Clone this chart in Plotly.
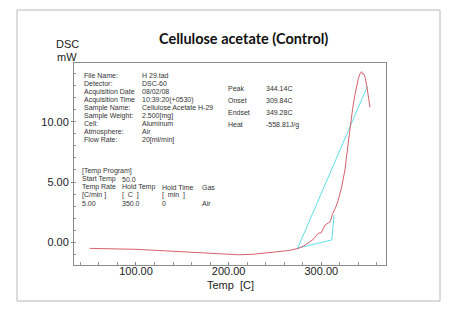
import plotly.graph_objects as go

# ---- data ----
dsc_temp = [50, 75, 100, 125, 150, 175, 195, 210, 225, 240, 255, 265, 275, 281, 287.7, 292, 296.7, 300, 304, 307,
            309.4, 311.2, 312.2, 315, 318.3, 322, 325.5, 328.5, 331.6, 334, 336.2, 338, 340, 342, 343.4, 344.5,
            345.5, 346.5, 347.5, 349, 351, 352.5]
dsc_mw = [-0.5, -0.53, -0.58, -0.68, -0.78, -0.9, -1.0, -1.03, -1.0, -0.9, -0.78, -0.68, -0.5, -0.3, 0.05, 0.3,
          0.75, 0.8, 1.43, 1.55, 1.7, 2.1, 2.4, 2.8, 3.5, 4.6, 6.0, 7.9, 9.9, 11.2, 12.2, 12.9, 13.6, 14.0, 14.15,
          13.95, 14.0, 13.85, 13.6, 13.0, 12.0, 11.2]

baseline_temp = [273.7, 311.3, 313.8]
baseline_mw = [-0.5, 0.2, 2.26]
tangent_temp = [274.4, 349.9]
tangent_mw = [-0.5, 12.96]

x_tickvals = [100, 200, 300]
x_ticktext = ["100.00", "200.00", "300.00"]
y_tickvals = [0, 5, 10]
y_ticktext = ["0.00", "5.00", "10.00"]

info_labels = ["File Name:", "Detector:", "Acquisition Date", "Acquisition Time", "Sample Name:",
               "Sample Weight:", "Cell:", "Atmosphere:", "Flow Rate:"]
info_values = ["H 29.tad", "DSC-60", "08/02/08", "10:39:20(+0530)", "Cellulose Acetate H-29",
               "2.500[mg]", "Aluminum", "Air", "20[ml/min]"]
result_labels = ["Peak", "Onset", "Endset", "Heat"]
result_values = ["344.14C", "309.84C", "349.28C", "-558.81J/g"]
program_lines = [["[Temp Program]"], ["Start Temp", "50.0"],
                 ["Temp Rate", "Hold Temp", "Hold Time", "Gas"],
                 ["[C/min ]", "[  C  ]", "[  min  ]", ""],
                 ["5.00", "350.0", "0", "Air"]]

# ---- layout geometry (pixels) ----
W, H = 454, 320
L, R, T, B = 74, 386, 63, 265


def px(x):
    return (x - L) / (R - L)


def py(y):
    return (B - y) / (B - T)


fig = go.Figure()
fig.add_trace(go.Scatter(x=baseline_temp, y=baseline_mw, mode="lines",
                         line=dict(color="#5fe0e8", width=1), hoverinfo="skip"))
fig.add_trace(go.Scatter(x=tangent_temp, y=tangent_mw, mode="lines",
                         line=dict(color="#5fe0e8", width=1), hoverinfo="skip"))
fig.add_trace(go.Scatter(x=dsc_temp, y=dsc_mw, mode="lines",
                         line=dict(color="#d8606c", width=1)))

ann = []
small = dict(family="Liberation Sans, Arial", size=7, color="#333")
for i, (a, b) in enumerate(zip(info_labels, info_values)):
    y = 75.7 + i * 8
    ann.append(dict(x=px(81.5), y=py(y), text=a, font=small))
    ann.append(dict(x=px(140), y=py(y), text=b, font=small))
for i, (a, b) in enumerate(zip(result_labels, result_values)):
    y = 88.5 + i * 12
    ann.append(dict(x=px(225.5), y=py(y), text=a, font=small))
    ann.append(dict(x=px(263.5), y=py(y), text=b, font=small))
cols = [80, 120, 160, 200]
for i, row in enumerate(program_lines):
    y = 171 + i * 8
    for j, t in enumerate(row):
        if t:
            ann.append(dict(x=px(cols[j]), y=py(y), text=t, font=small))
for a in ann:
    a.update(xref="paper", yref="paper", xanchor="left", yanchor="middle", showarrow=False)

big = dict(family="Liberation Sans, Arial", size=11, color="#222")
ann.append(dict(x=px(243), y=py(39), text="<b>Cellulose acetate (Control)</b>", xref="paper", yref="paper",
                showarrow=False, xanchor="center", yanchor="middle",
                font=dict(family="Lato", size=14.5, color="#111")))
ann.append(dict(x=px(54), y=py(44), text="DSC", xref="paper", yref="paper", showarrow=False,
                xanchor="left", yanchor="middle", font=big))
ann.append(dict(x=px(55), y=py(57), text="mW", xref="paper", yref="paper", showarrow=False,
                xanchor="left", yanchor="middle", font=big))
ann.append(dict(x=px(230), y=py(285), text="Temp  [C]", xref="paper", yref="paper", showarrow=False,
                xanchor="center", yanchor="middle", font=big))

fig.update_layout(
    width=W, height=H,
    margin=dict(l=L, r=W - R, t=T, b=H - B),
    paper_bgcolor="white", plot_bgcolor="white",
    showlegend=False,
    annotations=ann,
    shapes=[dict(type="rect", xref="paper", yref="paper",
                 x0=px(17), x1=px(440), y0=py(301), y1=py(10),
                 line=dict(color="#b8b8b8", width=1), fillcolor="rgba(0,0,0,0)")],
    xaxis=dict(range=[33.1, 369.8], showgrid=False, zeroline=False,
               showline=True, mirror=True, linecolor="#8a8a8a", linewidth=1,
               tickvals=x_tickvals, ticktext=x_ticktext, ticks="inside", ticklen=3, tickcolor="#888",
               tickfont=big, ticklabelstandoff=-4,
               minor=dict(dtick=20, tick0=0, ticks="inside", ticklen=3, tickcolor="#999")),
    yaxis=dict(range=[-1.88, 14.87], showgrid=False, zeroline=False,
               showline=True, mirror=True, linecolor="#8a8a8a", linewidth=1,
               tickvals=y_tickvals, ticktext=y_ticktext, ticks="outside", ticklen=2, tickcolor="#888",
               tickfont=big,
               minor=dict(dtick=1, tick0=0, ticks="inside", ticklen=2, tickcolor="#999")),
)

fig.write_html("out.html", config={"displayModeBar": False},
               post_script="document.body.style.margin='0px';document.body.style.overflow='hidden';")
